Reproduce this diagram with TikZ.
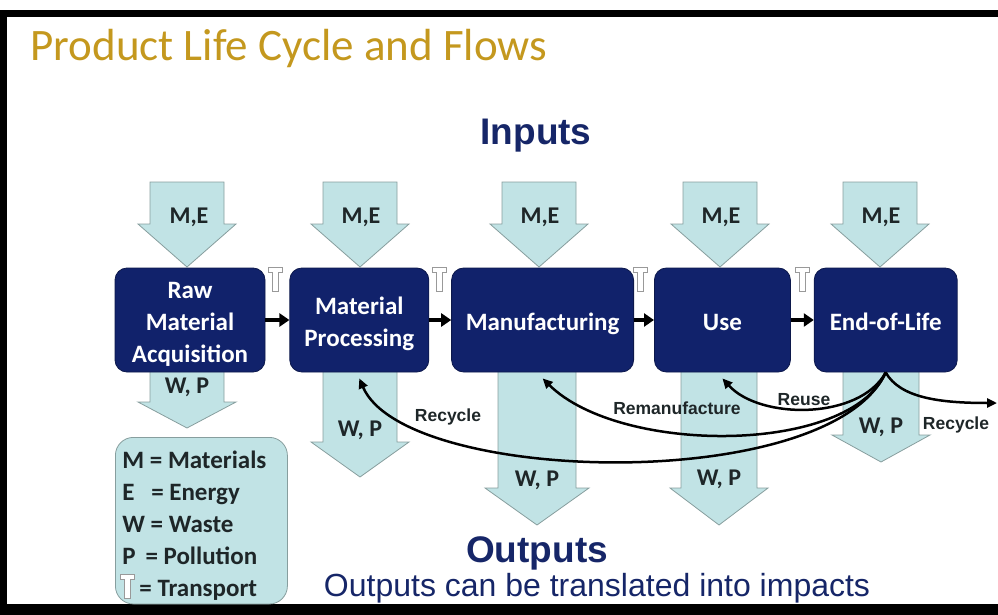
\documentclass[tikz,border=0pt]{standalone}
\usepackage{fontspec}
\setmainfont{Carlito}
\newfontfamily\arialfont{Liberation Sans}
\usepackage{tikz}
\usetikzlibrary{arrows.meta,positioning,calc}

\definecolor{stageBlue}{RGB}{17,34,107}
\definecolor{headBlue}{RGB}{22,38,104}
\definecolor{flowCyan}{RGB}{193,227,229}
\definecolor{flowEdge}{RGB}{135,158,158}
\definecolor{titleGold}{RGB}{196,152,30}
\definecolor{labelInk}{RGB}{30,38,40}

% struts that keep the stage text on the box middle
\newcommand{\topstrut}{\rule{0pt}{26pt}}
\newcommand{\botstrut}{\rule[-6pt]{0pt}{6pt}}

\begin{document}
\begin{tikzpicture}[x=1pt,y=-1pt,
>={Triangle[length=10pt,width=9pt]},
node distance=22pt]
\tikzstyle{every stage}=[rectangle, rounded corners=12pt, fill=stageBlue, draw=stageBlue!70!black,
 line width=0.8pt, text=white, align=center, minimum height=104pt, inner sep=0pt,
 font=\fontsize{25}{32}\selectfont\bfseries]
 \tikzset{
 	stage/.style={every stage},
 	flowArrow/.style={
 		fill=flowCyan,
 		draw=flowEdge,
 		line width=0.8pt
 	},
 	flowText/.style={font=\fontsize{24}{28}\selectfont\bfseries, text=labelInk, text height=16pt, text depth=0pt},
 	loopText/.style={font=\arialfont\fontsize{17.5}{20}\selectfont\bfseries, text=labelInk, text height=13pt, text depth=0pt},
 	stepArrow/.style={->, line width=3.5pt, >={Triangle[length=10pt,width=13pt]}},
 	loopArrow/.style={->, line width=2.5pt},
 	keyBox/.style={rectangle, rounded corners=18pt, fill=flowCyan, draw=flowEdge, line width=0.8pt},
 	transport/.pic={
 		\draw[fill=white, draw=black!40, line width=0.8pt]
 		(-7,0) -- (7,0) -- (7,5) -- (3,5) -- (3,24) -- (-3,24) -- (-3,5) -- (-7,5) -- cycle;
 	}
 }

\useasboundingbox (0,0) rectangle (998,615);

%frame
\fill[black] (0,10) rectangle (998,17);
\fill[black] (0,10) rectangle (7,615);
\fill[black] (0,604) rectangle (998,615);

\node[anchor=base west, text=titleGold, font=\fontsize{45}{50}\selectfont] (TITLE) at (27,61) {Product Life Cycle and Flows};

\node[anchor=base, text=headBlue, font=\arialfont\fontsize{37}{40}\selectfont\bfseries] (INPUTS) at (536,144) {Inputs};

%outputs (behind the stages)
\draw[flowArrow] (150,360) -- (224,360) -- (224,402) -- (236,402) -- (187,428) -- (138,402) -- (150,402) -- cycle;
\draw[flowArrow] (323,360) -- (397,360) -- (397,442) -- (409,442) -- (360,477) -- (311,442) -- (323,442) -- cycle;
\draw[flowArrow] (498,360) -- (576,360) -- (576,488) -- (589,488) -- (537,525) -- (485,488) -- (498,488) -- cycle;
\draw[flowArrow] (681,360) -- (757,360) -- (757,488) -- (768,488) -- (719,525) -- (670,488) -- (681,488) -- cycle;
\draw[flowArrow] (843,360) -- (919,360) -- (919,435) -- (930,435) -- (881,462) -- (832,435) -- (843,435) -- cycle;

%inputs
\draw[flowArrow] (150,182) -- (224,182) -- (224,224) -- (236,224) -- (187,267) -- (138,224) -- (150,224) -- cycle;
\draw[flowArrow] (323,182) -- (397,182) -- (397,224) -- (409,224) -- (360,267) -- (311,224) -- (323,224) -- cycle;
\draw[flowArrow] (502,182) -- (576,182) -- (576,224) -- (588,224) -- (539,267) -- (490,224) -- (502,224) -- cycle;
\draw[flowArrow] (683,182) -- (757,182) -- (757,224) -- (769,224) -- (720,267) -- (671,224) -- (683,224) -- cycle;
\draw[flowArrow] (843,182) -- (917,182) -- (917,224) -- (929,224) -- (880,267) -- (831,224) -- (843,224) -- cycle;

\node[flowText] (ME0) at (189,215) {M,E};
\node[flowText] (ME1) at (361,215) {M,E};
\node[flowText] (ME2) at (540,215) {M,E};
\node[flowText] (ME3) at (721,215) {M,E};
\node[flowText] (ME4) at (881,215) {M,E};

\node[flowText] (WP0) at (187,385) {W, P};
\node[flowText] (WP1) at (360,428) {W, P};
\node[flowText] (WP2) at (537,478) {W, P};
\node[flowText] (WP3) at (719,477) {W, P};
\node[flowText] (WP4) at (881,425) {W, P};

%--------------------------- stages ------------
\node[stage, minimum width=150pt] (S0) at (190,320) {\topstrut Raw\\Material\\Acquisition\botstrut};
\node[stage, minimum width=139pt, right=24pt of S0] (S1) {\topstrut Material\\Processing\botstrut};
\node[stage, minimum width=182pt, right=22pt of S1] (S2) {\topstrut Manufacturing\botstrut};
\node[stage, minimum width=136pt, right=20pt of S2] (S3) {\topstrut Use\botstrut};
\node[stage, minimum width=143pt, right=23pt of S3] (S4) {\topstrut End-of-Life\botstrut};

\draw[stepArrow] (S0) -- (S1);
\draw[stepArrow] (S1) -- (S2);
\draw[stepArrow] (S2) -- (S3);
\draw[stepArrow] (S3) -- (S4);

\pic at (275,267) {transport};
\pic at (439,267) {transport};
\pic at (640,267) {transport};
\pic at (802,267) {transport};

%---------------- end-of-life loops ------------
\coordinate (OUT) at (997,403);
\draw[loopArrow] (S4.south) .. controls (860,420) and (760,420) .. ([yshift=-6pt]S3.south);
\draw[loopArrow] (S4.south) .. controls (850,455) and (620,455) .. ([yshift=-6pt]S2.south);
\draw[loopArrow] (S4.south) .. controls (830,495) and (405,485) .. ([yshift=-6pt]S1.south);
\draw[loopArrow] (S4.south) .. controls (900,398) and (940,403) .. (OUT);

\node[loopText] (LREUSE) at (804,399) {Reuse};
\node[loopText] (LREMAN) at (677,408) {Remanufacture};
\node[loopText] (LREC1) at (448,415) {Recycle};
\node[loopText] (LREC2) at (956,423) {Recycle};

%---------------- key ------------
\node[keyBox, minimum width=172pt, minimum height=160pt, anchor=north west,
 text width=158pt, inner xsep=7pt, align=flush left,
 font=\fontsize{25}{32}\selectfont\bfseries, text=labelInk] (KEY) at (115,437)
 {\rule{0pt}{28pt}M = Materials\\
  E\enspace\,= Energy\\
  W = Waste\\
  P\,\ = Pollution\\
  \hspace{17pt}= Transport};
\pic at (127,574) {transport};

\node[anchor=base, text=headBlue, font=\arialfont\fontsize{37}{40}\selectfont\bfseries] (OUTPUTS) at (537,562) {Outputs};
\node[anchor=base, text=headBlue, font=\arialfont\fontsize{32}{36}\selectfont] (IMPACTS) at (597,596) {Outputs can be translated into impacts};

\end{tikzpicture}
\end{document}
